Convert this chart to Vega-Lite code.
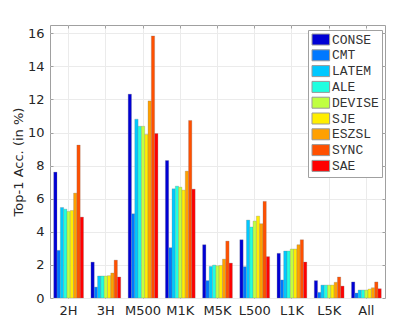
{
  "$schema": "https://vega.github.io/schema/vega-lite/v6.json",
  "width": 335,
  "height": 273,
  "autosize": {"type": "none"},
  "padding": {"left": 50, "top": 25, "right": 27, "bottom": 37},
  "background": "white",
  "config": {
    "view": {"stroke": "#a0a0a0", "strokeWidth": 1},
    "axis": {
      "labelFont": "DejaVu Sans",
      "labelFontSize": 13,
      "labelColor": "#262626",
      "titleFont": "DejaVu Sans",
      "titleFontSize": 13,
      "titleFontWeight": "normal",
      "titleColor": "#262626",
      "domainColor": "#a0a0a0",
      "tickColor": "#a0a0a0",
      "gridColor": "#ebebeb",
      "gridWidth": 1
    },
    "legend": {
      "labelFont": "Liberation Mono",
      "labelFontSize": 13,
      "labelColor": "#333333",
      "fillColor": "white",
      "strokeColor": "#a0a0a0",
      "padding": 3,
      "rowPadding": 0.8,
      "symbolType": "M-1,-1H2.2V1H-1Z",
      "symbolSize": 121,
      "symbolStrokeColor": "#999999",
      "symbolStrokeWidth": 1,
      "symbolOpacity": 1,
      "labelOffset": 8
    }
  },
  "data": {
    "values": [
      {"cat": "2H", "method": "CONSE", "value": 7.61},
      {"cat": "2H", "method": "CMT", "value": 2.88},
      {"cat": "2H", "method": "LATEM", "value": 5.47},
      {"cat": "2H", "method": "ALE", "value": 5.37},
      {"cat": "2H", "method": "DEVISE", "value": 5.23},
      {"cat": "2H", "method": "SJE", "value": 5.29},
      {"cat": "2H", "method": "ESZSL", "value": 6.34},
      {"cat": "2H", "method": "SYNC", "value": 9.24},
      {"cat": "2H", "method": "SAE", "value": 4.89},
      {"cat": "3H", "method": "CONSE", "value": 2.17},
      {"cat": "3H", "method": "CMT", "value": 0.66},
      {"cat": "3H", "method": "LATEM", "value": 1.33},
      {"cat": "3H", "method": "ALE", "value": 1.33},
      {"cat": "3H", "method": "DEVISE", "value": 1.33},
      {"cat": "3H", "method": "SJE", "value": 1.35},
      {"cat": "3H", "method": "ESZSL", "value": 1.51},
      {"cat": "3H", "method": "SYNC", "value": 2.29},
      {"cat": "3H", "method": "SAE", "value": 1.27},
      {"cat": "M500", "method": "CONSE", "value": 12.32},
      {"cat": "M500", "method": "CMT", "value": 5.09},
      {"cat": "M500", "method": "LATEM", "value": 10.81},
      {"cat": "M500", "method": "ALE", "value": 10.38},
      {"cat": "M500", "method": "DEVISE", "value": 10.38},
      {"cat": "M500", "method": "SJE", "value": 9.88},
      {"cat": "M500", "method": "ESZSL", "value": 11.91},
      {"cat": "M500", "method": "SYNC", "value": 15.84},
      {"cat": "M500", "method": "SAE", "value": 9.94},
      {"cat": "M1K", "method": "CONSE", "value": 8.31},
      {"cat": "M1K", "method": "CMT", "value": 3.04},
      {"cat": "M1K", "method": "LATEM", "value": 6.6},
      {"cat": "M1K", "method": "ALE", "value": 6.76},
      {"cat": "M1K", "method": "DEVISE", "value": 6.7},
      {"cat": "M1K", "method": "SJE", "value": 6.52},
      {"cat": "M1K", "method": "ESZSL", "value": 7.67},
      {"cat": "M1K", "method": "SYNC", "value": 10.73},
      {"cat": "M1K", "method": "SAE", "value": 6.58},
      {"cat": "M5K", "method": "CONSE", "value": 3.22},
      {"cat": "M5K", "method": "CMT", "value": 1.05},
      {"cat": "M5K", "method": "LATEM", "value": 1.91},
      {"cat": "M5K", "method": "ALE", "value": 1.99},
      {"cat": "M5K", "method": "DEVISE", "value": 1.95},
      {"cat": "M5K", "method": "SJE", "value": 1.97},
      {"cat": "M5K", "method": "ESZSL", "value": 2.35},
      {"cat": "M5K", "method": "SYNC", "value": 3.44},
      {"cat": "M5K", "method": "SAE", "value": 2.11},
      {"cat": "L500", "method": "CONSE", "value": 3.52},
      {"cat": "L500", "method": "CMT", "value": 1.89},
      {"cat": "L500", "method": "LATEM", "value": 4.71},
      {"cat": "L500", "method": "ALE", "value": 4.29},
      {"cat": "L500", "method": "DEVISE", "value": 4.65},
      {"cat": "L500", "method": "SJE", "value": 4.95},
      {"cat": "L500", "method": "ESZSL", "value": 4.49},
      {"cat": "L500", "method": "SYNC", "value": 5.84},
      {"cat": "L500", "method": "SAE", "value": 2.5},
      {"cat": "L1K", "method": "CONSE", "value": 2.7},
      {"cat": "L1K", "method": "CMT", "value": 1.09},
      {"cat": "L1K", "method": "LATEM", "value": 2.84},
      {"cat": "L1K", "method": "ALE", "value": 2.84},
      {"cat": "L1K", "method": "DEVISE", "value": 2.96},
      {"cat": "L1K", "method": "SJE", "value": 2.96},
      {"cat": "L1K", "method": "ESZSL", "value": 3.22},
      {"cat": "L1K", "method": "SYNC", "value": 3.52},
      {"cat": "L1K", "method": "SAE", "value": 2.17},
      {"cat": "L5K", "method": "CONSE", "value": 1.05},
      {"cat": "L5K", "method": "CMT", "value": 0.34},
      {"cat": "L5K", "method": "LATEM", "value": 0.78},
      {"cat": "L5K", "method": "ALE", "value": 0.78},
      {"cat": "L5K", "method": "DEVISE", "value": 0.78},
      {"cat": "L5K", "method": "SJE", "value": 0.78},
      {"cat": "L5K", "method": "ESZSL", "value": 0.95},
      {"cat": "L5K", "method": "SYNC", "value": 1.27},
      {"cat": "L5K", "method": "SAE", "value": 0.72},
      {"cat": "All", "method": "CONSE", "value": 0.97},
      {"cat": "All", "method": "CMT", "value": 0.3},
      {"cat": "All", "method": "LATEM", "value": 0.48},
      {"cat": "All", "method": "ALE", "value": 0.48},
      {"cat": "All", "method": "DEVISE", "value": 0.48},
      {"cat": "All", "method": "SJE", "value": 0.54},
      {"cat": "All", "method": "ESZSL", "value": 0.62},
      {"cat": "All", "method": "SYNC", "value": 0.97},
      {"cat": "All", "method": "SAE", "value": 0.56}
    ]
  },
  "layer": [
    {
      "mark": {"type": "bar", "stroke": "#7a7a7a", "strokeWidth": 0.4, "strokeOpacity": 0.7},
      "encoding": {
        "x": {
          "field": "cat", "type": "nominal",
          "sort": ["2H", "3H", "M500", "M1K", "M5K", "L500", "L1K", "L5K", "All"],
          "scale": {"paddingInner": 0.2, "paddingOuter": 0.1},
          "axis": {"title": null, "labelAngle": 0, "grid": true, "bandPosition": 0.5, "tickSize": -3, "labelPadding": 9, "domain": false}
        },
        "xOffset": {
          "field": "method", "type": "nominal",
          "sort": ["CONSE", "CMT", "LATEM", "ALE", "DEVISE", "SJE", "ESZSL", "SYNC", "SAE"],
          "scale": {"paddingInner": 0, "paddingOuter": 0}
        },
        "y": {
          "field": "value", "type": "quantitative",
          "scale": {"domain": [0, 16.5], "nice": false},
          "axis": {"title": "Top-1 Acc. (in %)", "values": [0, 2, 4, 6, 8, 10, 12, 14, 16], "grid": true, "tickSize": -3, "labelPadding": 9, "domain": false, "titlePadding": 2}
        },
        "color": {
          "field": "method", "type": "nominal",
          "sort": ["CONSE", "CMT", "LATEM", "ALE", "DEVISE", "SJE", "ESZSL", "SYNC", "SAE"],
          "scale": {
            "domain": ["CONSE", "CMT", "LATEM", "ALE", "DEVISE", "SJE", "ESZSL", "SYNC", "SAE"],
            "range": ["#0000d5", "#0078ff", "#00c8ff", "#20ffe0", "#c0ff40", "#ffee00", "#ffa000", "#ff5000", "#ff0000"]
          },
          "legend": {"title": null, "orient": "none", "legendX": 258, "legendY": 5}
        }
      }
    },
    {
      "mark": {"type": "bar", "opacity": 0},
      "encoding": {
        "x": {
          "field": "cat", "type": "nominal",
          "sort": ["2H", "3H", "M500", "M1K", "M5K", "L500", "L1K", "L5K", "All"],
          "axis": {"orient": "top", "title": null, "labels": false, "grid": false, "bandPosition": 0.5, "tickSize": -3, "domain": false}
        },
        "y": {
          "field": "value", "type": "quantitative",
          "axis": {"orient": "right", "title": null, "labels": false, "values": [0, 2, 4, 6, 8, 10, 12, 14, 16], "grid": false, "tickSize": -3, "domain": false}
        }
      }
    }
  ],
  "resolve": {"axis": {"x": "independent", "y": "independent"}}
}
